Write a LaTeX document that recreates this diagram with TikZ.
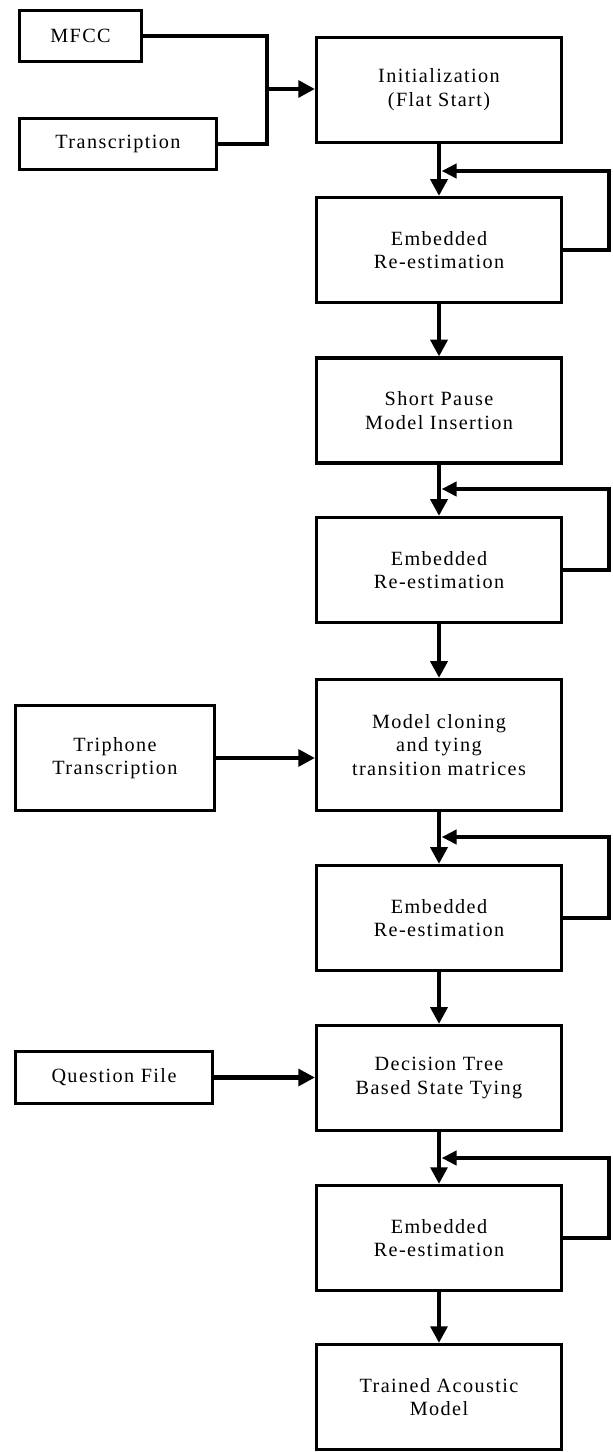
\documentclass[tikz,border=0pt]{standalone}
\usepackage{fontspec}
\setmainfont{Liberation Serif}[LetterSpace=7]
\usepackage{tikz}
\usetikzlibrary{calc}
\usetikzlibrary{arrows.meta}
\tikzset{
  stage/.style={draw,line width=1.8pt,minimum width=4.9cm,minimum height=2.1cm,align=center,inner sep=2pt,font=\fontsize{11.5}{13.5}\selectfont},
  source/.style={stage,minimum width=3.94cm,minimum height=1.02cm},
  flow/.style={-{Triangle[length=9.5pt,width=9.5pt]},line width=2.5pt},
  feedback/.style={-{Triangle[length=8.5pt,width=8pt]},line width=2.2pt,shorten >=1.5pt},
  feed/.style={line width=2.1pt}
}

\begin{document}
\begin{tikzpicture}[line cap=butt,line join=miter,x=0.02cm,y=-0.02cm]
            \clip(0,0) rectangle (612,1452);
            \node[source,minimum width=2.44cm] (mfcc) at (80.5,36) {MFCC};
            \node[source] (transcr) at (118,144) {Transcription};
            \node[stage] (init) at (439,90) {Initialization\\(Flat Start)};
            \node[stage] (emba) at (439,250) {Embedded\\Re-estimation};
            \node[stage] (pause) at (439,410.5) {Short Pause\\Model Insertion};
            \node[stage] (embb) at (439,570) {Embedded\\Re-estimation};
            \node[stage,minimum height=2.62cm] (clone) at (439,745) {Model cloning\\and tying\\transition matrices};
            \node[source,minimum width=3.98cm,minimum height=2.1cm] (triphone) at (115,758) {Triphone\\Transcription};
            \node[stage] (embc) at (439,918) {Embedded\\Re-estimation};
            \node[stage] (tree) at (439,1078) {Decision Tree\\Based State Tying};
            \node[source,minimum height=1.04cm] (question) at (114,1077.5) {Question File};
            \node[stage] (embd) at (439,1238) {Embedded\\Re-estimation};
            \node[stage] (trained) at (439,1397) {Trained Acoustic\\Model};
            \coordinate (join) at (267,89);
            \draw[feed] (mfcc.east) -| (join) |- (transcr.east);
            \draw[flow] (join) -- (join -| init.west);
            \draw[flow] (triphone.east) -- (triphone.east -| clone.west);
            \draw[flow] (question.east) -- (question.east -| tree.west);
            \draw[flow] (init) -- (emba);
            \draw[flow] (emba) -- (pause);
            \draw[flow] (pause) -- (embb);
            \draw[flow] (embb) -- (clone);
            \draw[flow] (clone) -- (embc);
            \draw[flow] (embc) -- (tree);
            \draw[flow] (tree) -- (embd);
            \draw[flow] (embd) -- (trained);
            \coordinate (backa) at (609,171);
            \coordinate (backb) at (609,489);
            \coordinate (backc) at (609,837);
            \coordinate (backd) at (609,1158);
            \draw[feedback] (emba.east) -| (backa) -- (backa -| emba.north);
            \draw[feedback] (embb.east) -| (backb) -- (backb -| embb.north);
            \draw[feedback] (embc.east) -| (backc) -- (backc -| embc.north);
            \draw[feedback] (embd.east) -| (backd) -- (backd -| embd.north);
\end{tikzpicture}
\end{document}
